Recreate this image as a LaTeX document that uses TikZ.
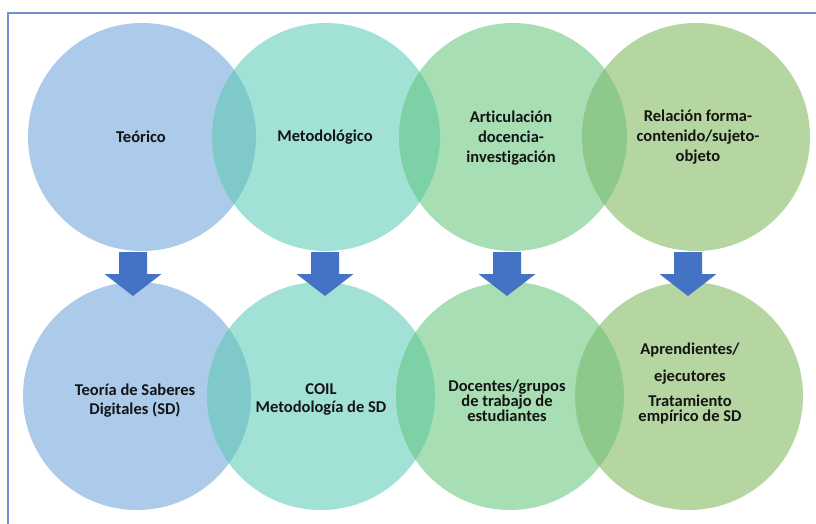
\documentclass[tikz,border=0pt]{standalone}
\usepackage{fontspec}
\setmainfont{Carlito}[Ligatures=NoCommon]
\definecolor{cA}{HTML}{ACCAEA}
\definecolor{cB}{HTML}{A2E2D6}
\definecolor{cC}{HTML}{A8DEB4}
\definecolor{cD}{HTML}{B6D6A1}
\definecolor{lAB}{HTML}{7FC9CB}
\definecolor{lBC}{HTML}{7DD1A6}
\definecolor{lCD}{HTML}{8DC98A}
\definecolor{arrowblue}{HTML}{4472C4}
\definecolor{framecol}{HTML}{7090D0}
\definecolor{txt}{HTML}{141414}
\begin{document}
\begin{tikzpicture}[x=1pt,y=-1pt,
  lbl/.style={align=center,text=txt,font=\fontsize{16.5}{20}\selectfont\bfseries,inner sep=0pt},
  lbltight/.style={lbl,font=\fontsize{16.5}{15}\selectfont\bfseries},
  blockarrow/.style={fill=arrowblue}]
\useasboundingbox (0,0) rectangle (816,524);
\fill[white] (0,0) rectangle (816,524);
% frame (partly cropped)
\draw[framecol,line width=1.5pt] (8,524) -- (8,13) -- (816,13);
% centres
\coordinate (t1) at (142,137);
\coordinate (t2) at (326,137);
\coordinate (t3) at (513,137);
\coordinate (t4) at (696,137);
\coordinate (b1) at (137,396);
\coordinate (b2) at (321,396);
\coordinate (b3) at (510,396);
\coordinate (b4) at (689,396);
\def\R{114}
% circles
\foreach \r in {t,b}{
  \fill[cA] (\r1) circle (\R);
  \fill[cB] (\r2) circle (\R);
  \fill[cC] (\r3) circle (\R);
  \fill[cD] (\r4) circle (\R);
  \begin{scope}\clip (\r1) circle (\R); \fill[lAB] (\r2) circle (\R);\end{scope}
  \begin{scope}\clip (\r2) circle (\R); \fill[lBC] (\r3) circle (\R);\end{scope}
  \begin{scope}\clip (\r3) circle (\R); \fill[lCD] (\r4) circle (\R);\end{scope}
}
% arrows
\foreach \name/\x in {a1/133,a2/325,a3/507,a4/688}{
  \coordinate (\name) at (\x,252);
  \fill[blockarrow] (\name) ++(-14,0) -- ++(28,0) -- ++(0,22) -- ++(14.5,0)
     -- ++(-28.5,22) -- ++(-28.5,-22) -- ++(14.5,0) -- cycle;
}
% labels top
\node[lbl] (n1) at (141,137) {Teórico};
\node[lbl] (n2) at (325,137) {Metodológico};
\node[lbl] (n3) at (511,138) {Articulación\\docencia-\\investigación};
\node[lbl] (n4) at (698,137) {Relación forma-\\contenido/sujeto-\\objeto};
% labels bottom
\node[lbl,font=\fontsize{16.5}{19}\selectfont\bfseries] (m1) at (135,401) {Teoría de Saberes\\Digitales (SD)};
\node[lbl,font=\fontsize{16.5}{18}\selectfont\bfseries] (m2) at (321,399) {COIL\\Metodología de SD};
\node[lbltight] (m3) at (507,401) {Docentes/grupos\\de trabajo de\\estudiantes};
\node[lbltight] (m4) at (690,384) {Aprendientes/\\[12pt]ejecutores\\[10pt]Tratamiento\\empírico de SD};
\end{tikzpicture}
\end{document}
